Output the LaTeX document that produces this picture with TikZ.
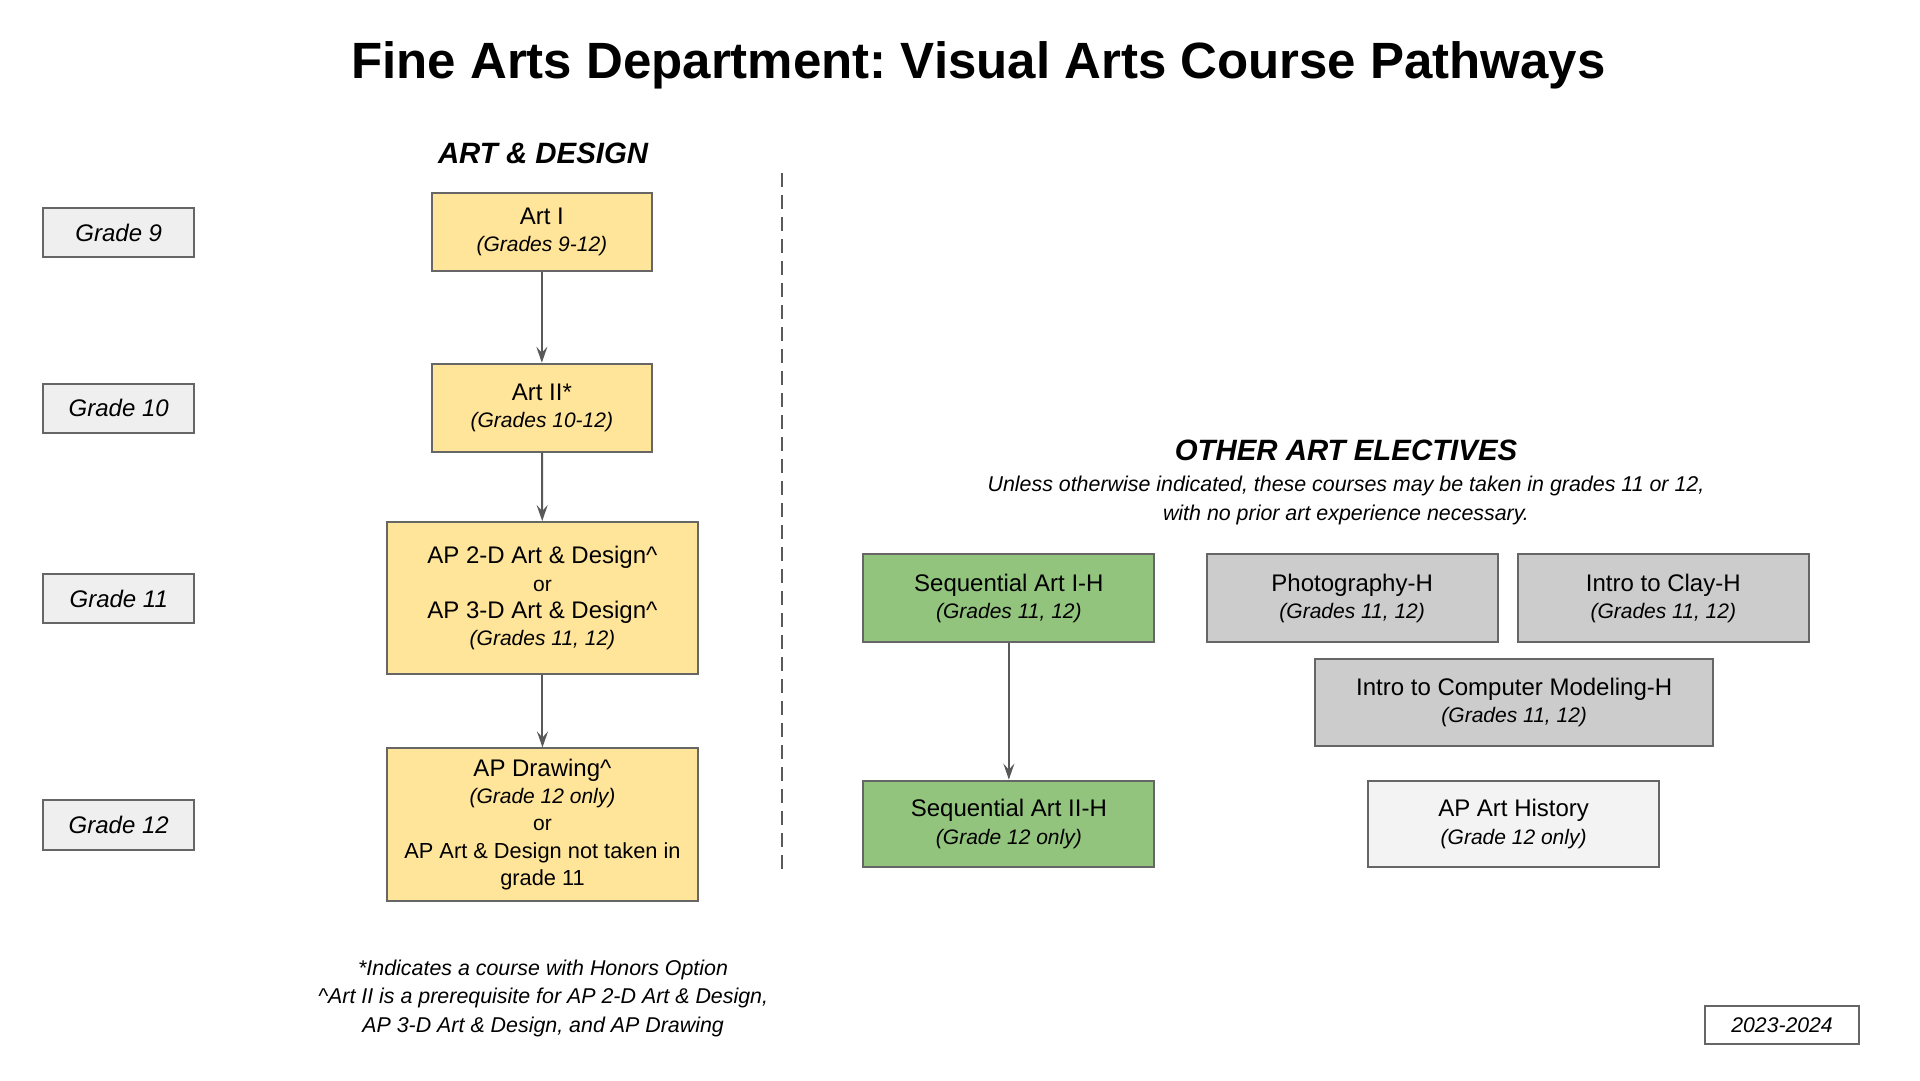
\documentclass[tikz,border=0pt]{standalone}
\usepackage{fontspec}
\setmainfont{Liberation Sans}
\usetikzlibrary{arrows.meta}
\definecolor{bordergray}{HTML}{666666}
\definecolor{linegray}{HTML}{595959}
\definecolor{artyellow}{HTML}{FFE599}
\definecolor{seqgreen}{HTML}{93C47D}
\definecolor{electgray}{HTML}{CCCCCC}
\definecolor{gradegray}{HTML}{EFEFEF}
\definecolor{histgray}{HTML}{F3F3F3}
\newcommand{\subl}[1]{{\fontsize{10.5}{13.6}\selectfont\itshape #1}}
\newcommand{\orl}{{\fontsize{10.5}{13.6}\selectfont or}}
\newcommand{\smalll}[1]{{\fontsize{10.9}{13.4}\selectfont #1}}
\frenchspacing
\begin{document}
\begin{tikzpicture}[x=0.6186pt,y=-0.6186pt,
  coursebox/.style={draw=bordergray, line width=1pt, align=center, inner sep=0pt,
    font=\fontsize{12}{13.6}\selectfont},
  gradebox/.style={draw=bordergray, line width=1pt, fill=gradegray, inner sep=0pt,
    minimum width=75.5pt, minimum height=24.7pt, font=\fontsize{12}{14}\selectfont\itshape},
  yellowbox/.style={coursebox, fill=artyellow},
  greenbox/.style={coursebox, fill=seqgreen, minimum width=145.4pt, minimum height=43.9pt},
  graybox/.style={coursebox, fill=electgray, minimum width=145.4pt, minimum height=43.9pt},
  heading/.style={font=\fontsize{14.7}{17}\selectfont\bfseries\itshape, inner sep=0pt},
  note/.style={align=center, inner sep=0pt, font=\fontsize{10.7}{14.2}\selectfont\itshape},
  arr/.style={draw=linegray, line width=1pt, -{Stealth[length=8pt, width=5.5pt, inset=3pt]}},
  divider/.style={draw=linegray, line width=1pt, dash pattern=on 7pt off 4pt}
]
\useasboundingbox (0,0) rectangle (1552,873);

% title
\node[inner sep=0pt, font=\fontsize{25.5}{30}\selectfont\bfseries] (title) at (791,53)
  {Fine Arts Department: Visual Arts Course Pathways};

% headings
\node[heading] (hdesign) at (439,124) {ART \& DESIGN};
\node[heading] (hother) at (1088,364) {OTHER ART ELECTIVES};
\node[note] (subtitle) at (1088,404.5)
  {Unless otherwise indicated, these courses may be taken in grades 11 or 12,\\
   with no prior art experience necessary.};

% grade labels
\node[gradebox] (g9) at (96,188) {Grade 9};
\node[gradebox] (g10) at (96,330) {Grade 10};
\node[gradebox] (g11) at (96,484) {Grade 11};
\node[gradebox] (g12) at (96,667) {Grade 12};

% art & design column
\node[yellowbox, minimum width=110.1pt, minimum height=39pt] (art1) at (438,187.5)
  {Art I\\\subl{(Grades 9-12)}};
\node[yellowbox, minimum width=110.1pt, minimum height=43.9pt] (art2) at (438,329.5)
  {Art II*\\\subl{(Grades 10-12)}};
\node[yellowbox, minimum width=155.3pt, minimum height=76.1pt] (ap23) at (438.5,483.5)
  {AP 2-D Art \& Design\textasciicircum\\\orl\\AP 3-D Art \& Design\textasciicircum\\\subl{(Grades 11, 12)}};
\node[yellowbox, minimum width=155.3pt, minimum height=76.1pt] (apdr) at (438.5,666.5)
  {AP Drawing\textasciicircum\\\subl{(Grade 12 only)}\\\orl\\\smalll{AP Art \& Design not taken in}\\\smalll{grade 11}};

\draw[arr] (art1) -- (art2);
\draw[arr] (art2) -- (ap23);
\draw[arr] (ap23) -- (apdr);

% divider
\coordinate (dtop) at (632,140);
\coordinate (dbot) at (632,703);
\draw[divider] (dtop) -- (dbot);

% electives
\node[greenbox] (seq1) at (815.5,483.5) {Sequential Art I-H\\\subl{(Grades 11, 12)}};
\node[greenbox, minimum height=43.3pt] (seq2) at (815.5,666) {Sequential Art II-H\\\subl{(Grade 12 only)}};
\node[graybox] (photo) at (1093,483.5) {Photography-H\\\subl{(Grades 11, 12)}};
\node[graybox] (clay) at (1344.5,483.5) {Intro to Clay-H\\\subl{(Grades 11, 12)}};
\node[graybox, minimum width=199.2pt, minimum height=43.3pt] (comp) at (1224,568)
  {Intro to Computer Modeling-H\\\subl{(Grades 11, 12)}};
\node[coursebox, fill=histgray, minimum width=145.4pt, minimum height=43.3pt] (hist) at (1223.5,666)
  {AP Art History\\\subl{(Grade 12 only)}};

\draw[arr] (seq1) -- (seq2);

% footnotes
\node[note] (foot) at (439,807)
  {*Indicates a course with Honors Option\\
   \textasciicircum Art II is a prerequisite for AP 2-D Art \& Design,\\
   AP 3-D Art \& Design, and AP Drawing};

\node[draw=bordergray, line width=1pt, fill=white, inner sep=0pt, minimum width=77.3pt,
  minimum height=19.2pt, font=\fontsize{10.6}{12}\selectfont\itshape] (year) at (1440.5,828.5) {2023-2024};
\end{tikzpicture}
\end{document}
